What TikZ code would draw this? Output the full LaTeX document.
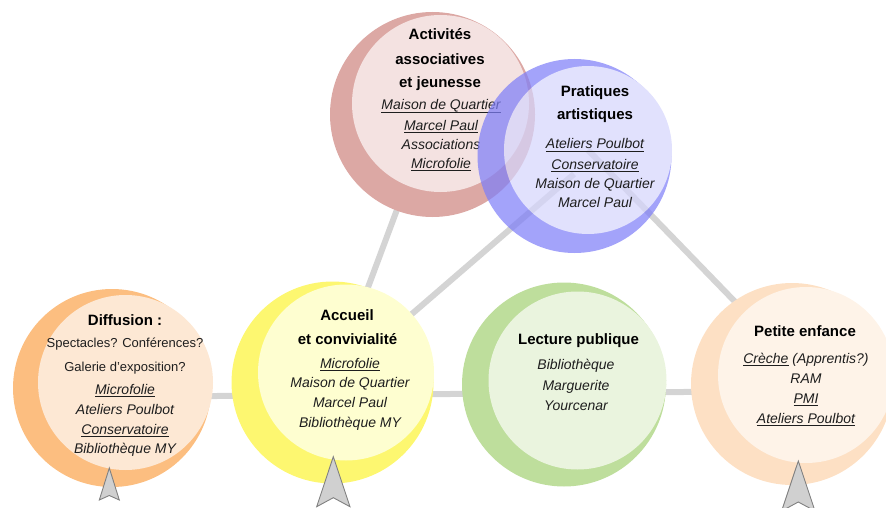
\documentclass[tikz,border=0pt]{standalone}
\usepackage{fontspec}
\setmainfont{Liberation Sans}
\pgfdeclarelayer{background}
\pgfsetlayers{background,main}
\newcommand\myul[1]{\setbox0\hbox{#1}\rlap{\rule[-2.6pt]{\wd0}{0.8pt}}\box0\relax}
\definecolor{redO}{RGB}{220,168,164}
\definecolor{redI}{RGB}{244,226,225}
\definecolor{blueO}{RGB}{127,127,248}
\definecolor{blueI}{RGB}{213,213,252}
\definecolor{orO}{RGB}{252,190,128}
\definecolor{orI}{RGB}{253,232,212}
\definecolor{yeO}{RGB}{253,247,112}
\definecolor{yeI}{RGB}{254,254,208}
\definecolor{grO}{RGB}{190,222,156}
\definecolor{grI}{RGB}{234,244,222}
\definecolor{peO}{RGB}{253,224,196}
\definecolor{peI}{RGB}{254,243,232}
\definecolor{linkc}{RGB}{212,212,212}
\definecolor{arrF}{RGB}{208,208,208}
\definecolor{arrD}{RGB}{128,128,128}
\definecolor{txtc}{RGB}{30,30,30}
\tikzset{
  disc/.style={circle, draw=none, inner sep=0pt, outer sep=0pt},
  link/.style={draw=linkc, line width=6pt},
  arrowsty/.style={fill=arrF, draw=arrD, line width=0.9pt, line join=miter},
  ttl/.style={anchor=base, inner sep=0pt, text=black, font=\fontsize{15}{18}\selectfont\bfseries},
  itm/.style={anchor=base, inner sep=0pt, text=txtc, font=\fontsize{14}{17}\selectfont\itshape},
  reg/.style={anchor=base, inner sep=0pt, text=txtc, font=\fontsize{13}{16}\selectfont},
}
\begin{document}
\begin{tikzpicture}[x=1pt,y=-1pt]
\useasboundingbox (0,0) rectangle (886,508);
% bottom row circles
\node[disc, fill=orO, minimum size=198] (dif) at (112,388) {};
\node[disc, fill=orI, minimum size=175] (difi) at (125.5,382.5) {};
\node[disc, fill=yeO, minimum size=202] (acc) at (332.5,382.5) {};
\node[disc, fill=yeI, minimum size=176] (acci) at (346,372.5) {};
\node[disc, fill=grO, minimum size=204] (lec) at (564,384.5) {};
\node[disc, fill=grI, minimum size=178] (leci) at (577.5,380.5) {};
\node[disc, fill=peO, minimum size=202] (pet) at (792,384) {};
\node[disc, fill=peI, minimum size=176] (peti) at (806,375) {};
% top-left circle
\node[disc, fill=redO, minimum size=205] (act) at (432.5,114.5) {};
\node[disc, fill=redI, minimum size=177] (acti) at (440.5,103.5) {};
% links
\coordinate (hl) at (100,397);
\coordinate (hr) at (800,391);
\coordinate (pral) at (574,174);
\coordinate (prc) at (588,150);
\begin{pgfonlayer}{background}
\draw[link] (hl) -- (hr);
\draw[link] (acc.center) -- (act.center);
\draw[link] (acc.center) -- (pral);
\draw[link] (prc) -- (peti.center);
\end{pgfonlayer}
% Activites text
\node[ttl] (a1) at (440,40) {Activités};
\node[ttl] (a2) at (440,64.3) {associatives};
\node[ttl] (a3) at (440,87.7) {et jeunesse};
\node[itm] (a4) at (441,110) {\myul{Maison de Quartier}};
\node[itm] (a5) at (441,130.7) {\myul{Marcel Paul}};
\node[itm] (a6) at (441,149.3) {Associations};
\node[itm] (a7) at (441,168.3) {\myul{Microfolie}};
% Pratiques circle (semi-transparent)
\begin{scope}[transparency group, opacity=0.72]
\node[disc, fill=blueO, minimum size=194] (pra) at (574.5,156) {};
\node[disc, fill=blueI, minimum size=168] (prai) at (588,150) {};
\end{scope}
\node[ttl] (p1) at (595,96.7) {Pratiques};
\node[ttl] (p2) at (595,120) {artistiques};
\node[itm] (p3) at (595,149) {\myul{Ateliers Poulbot}};
\node[itm] (p4) at (595,169) {\myul{Conservatoire}};
\node[itm] (p5) at (595,188.3) {Maison de Quartier};
\node[itm] (p6) at (595,207.7) {Marcel Paul};
% Diffusion
\node[ttl] (d1) at (125,325) {Diffusion :};
\node[reg] (d2) at (125,347.3) {Spectacles? Conférences?};
\node[reg] (d3) at (125,371.7) {Galerie d’exposition?};
\node[itm] (d4) at (125,394) {\myul{Microfolie}};
\node[itm] (d5) at (125,414) {Ateliers Poulbot};
\node[itm] (d6) at (125,434) {\myul{Conservatoire}};
\node[itm] (d7) at (125,453.3) {Bibliothèque MY};
% Accueil
\node[ttl] (c1) at (347,320) {Accueil};
\node[ttl] (c2) at (347.5,344.3) {et convivialité};
\node[itm] (c3) at (350,368.3) {\myul{Microfolie}};
\node[itm] (c4) at (350,387.3) {Maison de Quartier};
\node[itm] (c5) at (350,407.3) {Marcel Paul};
\node[itm] (c6) at (350,427.7) {Bibliothèque MY};
% Lecture
\node[ttl] (l1) at (578.5,344) {Lecture publique};
\node[itm] (l2) at (576,369.3) {Bibliothèque};
\node[itm] (l3) at (576,390) {Marguerite};
\node[itm] (l4) at (576,410) {Yourcenar};
% Petite enfance
\node[ttl] (e1) at (805,336.7) {Petite enfance};
\node[itm] (e2) at (806,363.3) {\myul{Crèche} (Apprentis?)};
\node[itm] (e3) at (806,383.3) {RAM};
\node[itm] (e4) at (806,403.3) {\myul{PMI}};
\node[itm] (e5) at (806,423.3) {\myul{Ateliers Poulbot}};
% arrows
\draw[arrowsty] (109.3,468) -- (119.3,500) -- (109.3,495.5) -- (99.3,500) -- cycle;
\draw[arrowsty] (333.3,456.7) -- (350,506.7) -- (333.3,497.7) -- (316.7,506.7) -- cycle;
\draw[arrowsty] (798.3,461) -- (815,511) -- (798.3,502) -- (781.6,511) -- cycle;
\end{tikzpicture}
\end{document}
